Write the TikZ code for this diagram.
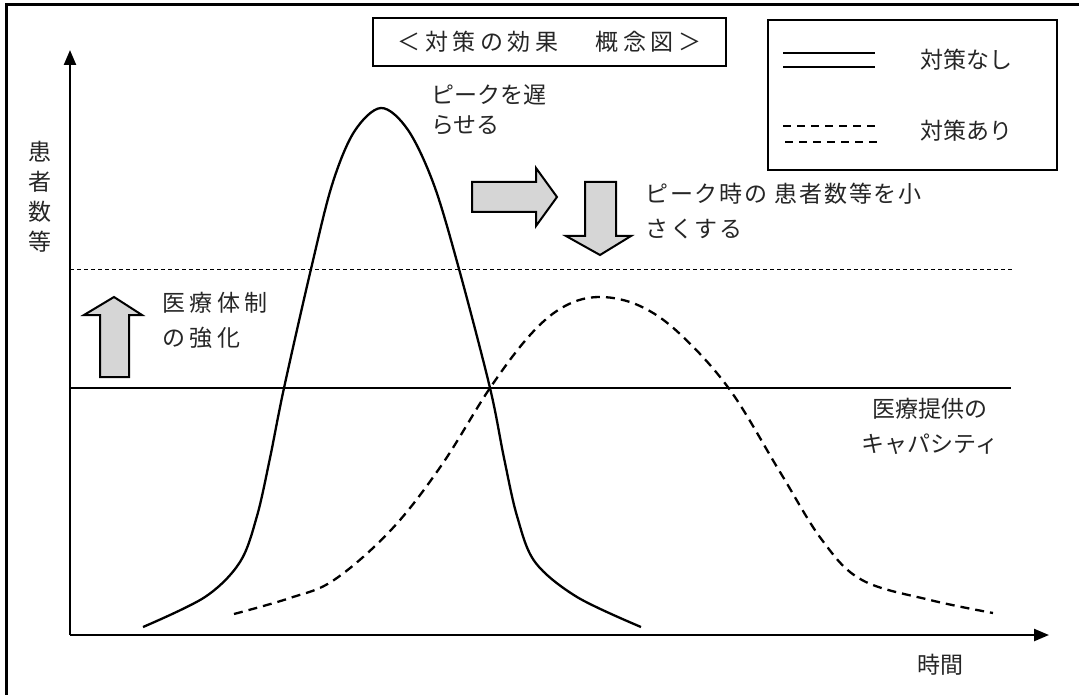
\documentclass[tikz,border=0pt]{standalone}
\usepackage{fontspec}
\setmainfont{Noto Sans CJK JP}
\newfontfamily\wideA[LetterSpace=8]{Noto Sans CJK JP}
\newfontfamily\wideB[LetterSpace=20]{Noto Sans CJK JP}
\usetikzlibrary{arrows.meta}
\tikzset{
  lbl/.style={inner sep=0pt, font=\fontsize{23}{30}\selectfont, text=black!85},
  lbltall/.style={inner sep=0pt, font=\fontsize{23}{35}\selectfont, text=black!85},
  axis/.style={line width=2.4pt, -{Triangle[length=15pt,width=12pt]}},
  curveA/.style={line width=2.3pt},
  curveB/.style={line width=2.3pt, dash pattern=on 9pt off 6pt},
  blockarrow/.style={fill=black!16, draw=black, line width=2pt, line join=miter},
  boxstyle/.style={draw=black, line width=2.4pt}
}
\begin{document}
\begin{tikzpicture}[x=1pt,y=-1pt]
\useasboundingbox (0,0) rectangle (1079,695);
\fill[white] (0,0) rectangle (1079,695);
% frame
\draw[line width=3pt] (6,695) -- (6,5) -- (1079,5);
% axes
\coordinate (O) at (70,635);
\coordinate (Ytip) at (70,50);
\coordinate (Xtip) at (1049,635);
\draw[axis] (O) -- (Ytip);
\draw[axis] (O) -- (Xtip);
% capacity lines
\coordinate (capL) at (70,388);
\coordinate (capR) at (1011,388);
\draw[line width=2.3pt] (capL) -- (capR);
\coordinate (capL2) at (70,269);
\coordinate (capR2) at (1012,269);
\draw[line width=1pt, dash pattern=on 4pt off 3pt] (capL2) -- (capR2);
% curve without measures
\draw[curveA] plot[smooth, tension=0.55] coordinates {(143,627) (205,597) (240,562) (257,516) (270,458) (284,388) (311,269) (332,185) (354,132) (381,108) (408,130) (434,185) (459,269) (490,388) (504,458) (517,516) (535,562) (577,597) (641,627)};
% curve with measures
\draw[curveB] plot[smooth, tension=0.6] coordinates {(234,614) (290,598) (334,580) (391,530) (441,466) (490,388) (531,334) (565,306) (600,297) (640,306) (680,334) (730,390) (780,472) (822,540) (862,580) (930,600) (993,613)};
% title
\node[boxstyle, minimum width=353pt, minimum height=48pt, inner sep=0pt] (title) at (549.5,42) {};
\node[lbl, font=\wideB\fontsize{23}{30}\selectfont] (titletext) at (title.center) {＜対策の効果　 概念図＞};
% legend
\node[boxstyle, minimum width=289pt, minimum height=150pt, inner sep=0pt] (legend) at (912.5,95) {};
\coordinate (la1) at (783,53); \coordinate (lb1) at (875,53);
\coordinate (la2) at (783,67); \coordinate (lb2) at (875,67);
\draw[line width=2.3pt] (la1) -- (lb1);
\draw[line width=2.3pt] (la2) -- (lb2);
\coordinate (lc1) at (783,126); \coordinate (ld1) at (875,126);
\coordinate (lc2) at (785,142); \coordinate (ld2) at (877,142);
\draw[line width=2pt, dash pattern=on 8pt off 6pt] (lc1) -- (ld1);
\draw[line width=2pt, dash pattern=on 8pt off 6pt] (lc2) -- (ld2);
\node[lbl, anchor=west] (leg1) at (920,60) {対策なし};
\node[lbl, anchor=west] (leg2) at (920,131) {対策あり};
% block arrows
\draw[blockarrow] (472,182) -- (536,182) -- (536,168) -- (557,197) -- (536,226) -- (536,212) -- (472,212) -- cycle;
\draw[blockarrow] (585,182) -- (616,182) -- (616,236) -- (631,236) -- (600,255) -- (566,236) -- (585,236) -- cycle;
\draw[blockarrow] (100,377) -- (100,315) -- (84,315) -- (114,297) -- (142,315) -- (129,315) -- (129,377) -- cycle;
% labels
\node[lbl, align=left, anchor=west] (delay) at (431,110) {ピークを遅\\らせる};
\node[lbltall, align=left, anchor=west, font=\wideA\fontsize{23}{35}\selectfont] (reduce) at (645,211) {ピーク時の 患者数等を小\\さくする};
\node[lbltall, align=left, anchor=west, font=\wideB\fontsize{23}{35}\selectfont] (strengthen) at (162,320) {医療体制\\の強化};
\node[lbltall, align=center] (capacity) at (930,426) {医療提供の\\キャパシティ};
\node[lbl, align=center, font=\fontsize{23}{30}\selectfont] (ylabel) at (40,197) {患\\者\\数\\等};
\node[lbl] (xlabel) at (940,665) {時間};
\end{tikzpicture}
\end{document}
